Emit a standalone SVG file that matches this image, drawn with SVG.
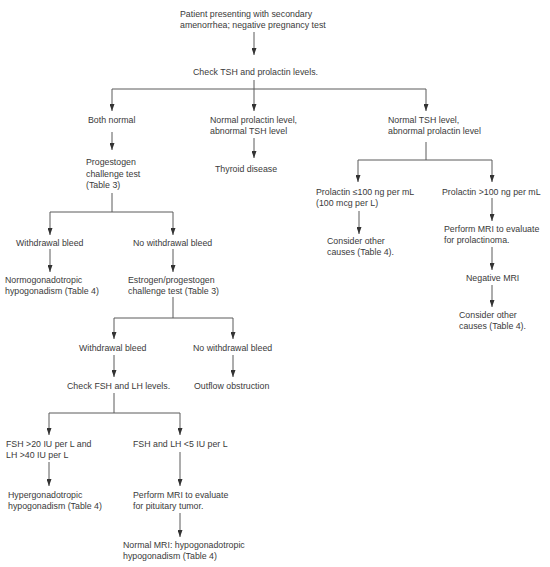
<svg xmlns="http://www.w3.org/2000/svg" width="550" height="567" viewBox="0 0 550 567">
<style>
text { font-family: "Liberation Sans", Arial, sans-serif; font-size: 8.8px; fill: #3a3a3a; }
.c { fill: none; stroke: #5a5a5a; stroke-width: 1; }
</style>
<defs>
<marker id="ah" viewBox="0 0 7 5" refX="7" refY="2.5" markerWidth="7" markerHeight="5" markerUnits="userSpaceOnUse" orient="auto">
<path d="M0,0 L7,2.5 L0,5 z" fill="#333333"/>
</marker>
</defs>
<rect width="550" height="567" fill="#ffffff"/>
<g id="connectors">
<path class="c" d="M254,32 V55" marker-end="url(#ah)"/>
<path class="c" d="M254,80 V89 M112,89 H426"/>
<path class="c" d="M112,89 V111" marker-end="url(#ah)"/>
<path class="c" d="M254,89 V111" marker-end="url(#ah)"/>
<path class="c" d="M426,89 V111" marker-end="url(#ah)"/>
<path class="c" d="M112,132 V150" marker-end="url(#ah)"/>
<path class="c" d="M254,138 V158" marker-end="url(#ah)"/>
<path class="c" d="M426,142 V160 M358,160 H492"/>
<path class="c" d="M358,160 V182" marker-end="url(#ah)"/>
<path class="c" d="M492,160 V182" marker-end="url(#ah)"/>
<path class="c" d="M359,211 V234" marker-end="url(#ah)"/>
<path class="c" d="M492,198 V221" marker-end="url(#ah)"/>
<path class="c" d="M492,247 V270" marker-end="url(#ah)"/>
<path class="c" d="M492,285 V307" marker-end="url(#ah)"/>
<path class="c" d="M112,193 V212 M50,212 H173"/>
<path class="c" d="M50,212 V235" marker-end="url(#ah)"/>
<path class="c" d="M173,212 V235" marker-end="url(#ah)"/>
<path class="c" d="M50,249 V272" marker-end="url(#ah)"/>
<path class="c" d="M173,249 V272" marker-end="url(#ah)"/>
<path class="c" d="M173,297 V318 M114,318 H233"/>
<path class="c" d="M114,318 V339" marker-end="url(#ah)"/>
<path class="c" d="M233,318 V339" marker-end="url(#ah)"/>
<path class="c" d="M114,355 V377" marker-end="url(#ah)"/>
<path class="c" d="M233,355 V377" marker-end="url(#ah)"/>
<path class="c" d="M114,393 V413 M49,413 H180"/>
<path class="c" d="M49,413 V435" marker-end="url(#ah)"/>
<path class="c" d="M180,413 V435" marker-end="url(#ah)"/>
<path class="c" d="M49,462 V486" marker-end="url(#ah)"/>
<path class="c" d="M180,452 V486" marker-end="url(#ah)"/>
<path class="c" d="M180,513 V537" marker-end="url(#ah)"/>
</g>
<g id="n-start"><text x="180" y="17">Patient presenting with secondary</text><text x="180" y="28">amenorrhea; negative pregnancy test</text></g>
<g id="n-check"><text x="193" y="75">Check TSH and prolactin levels.</text></g>
<g id="n-both"><text x="88" y="122.5">Both normal</text></g>
<g id="n-tsh"><text x="210" y="122.5">Normal prolactin level,</text><text x="210" y="134">abnormal TSH level</text></g>
<g id="n-prl"><text x="388" y="122.5">Normal TSH level,</text><text x="388" y="134">abnormal prolactin level</text></g>
<g id="n-progchal"><text x="86" y="165">Progestogen</text><text x="86" y="176.5">challenge test</text><text x="86" y="188">(Table 3)</text></g>
<g id="n-thyroid"><text x="215" y="171.5">Thyroid disease</text></g>
<g id="n-prl-low"><text x="316" y="195">Prolactin ≤100 ng per mL</text><text x="316" y="206">(100 mcg per L)</text></g>
<g id="n-prl-high"><text x="442" y="195">Prolactin &gt;100 ng per mL</text></g>
<g id="n-other1"><text x="327" y="243.5">Consider other</text><text x="327" y="255">causes (Table 4).</text></g>
<g id="n-mri1"><text x="444" y="231.5">Perform MRI to evaluate</text><text x="444" y="243">for prolactinoma.</text></g>
<g id="n-negmri"><text x="466" y="280.5">Negative MRI</text></g>
<g id="n-other2"><text x="459" y="317.5">Consider other</text><text x="459" y="329">causes (Table 4).</text></g>
<g id="n-wb1"><text x="16" y="245.5">Withdrawal bleed</text></g>
<g id="n-nwb1"><text x="133" y="245.5">No withdrawal bleed</text></g>
<g id="n-normo"><text x="5" y="282.5">Normogonadotropic</text><text x="5" y="294">hypogonadism (Table 4)</text></g>
<g id="n-estro"><text x="128" y="282.5">Estrogen/progestogen</text><text x="128" y="294">challenge test (Table 3)</text></g>
<g id="n-wb2"><text x="79" y="350.5">Withdrawal bleed</text></g>
<g id="n-nwb2"><text x="193" y="350.5">No withdrawal bleed</text></g>
<g id="n-fshlh"><text x="67" y="388.5">Check FSH and LH levels.</text></g>
<g id="n-outflow"><text x="194" y="388.5">Outflow obstruction</text></g>
<g id="n-high"><text x="6" y="446.5">FSH &gt;20 IU per L and</text><text x="6" y="458">LH &gt;40 IU per L</text></g>
<g id="n-low"><text x="133" y="446.5">FSH and LH &lt;5 IU per L</text></g>
<g id="n-hyper"><text x="8" y="497.5">Hypergonadotropic</text><text x="8" y="509">hypogonadism (Table 4)</text></g>
<g id="n-mri2"><text x="133" y="497.5">Perform MRI to evaluate</text><text x="133" y="509">for pituitary tumor.</text></g>
<g id="n-normalmri"><text x="123" y="547.5">Normal MRI: hypogonadotropic</text><text x="123" y="559">hypogonadism (Table 4)</text></g>
</svg>
